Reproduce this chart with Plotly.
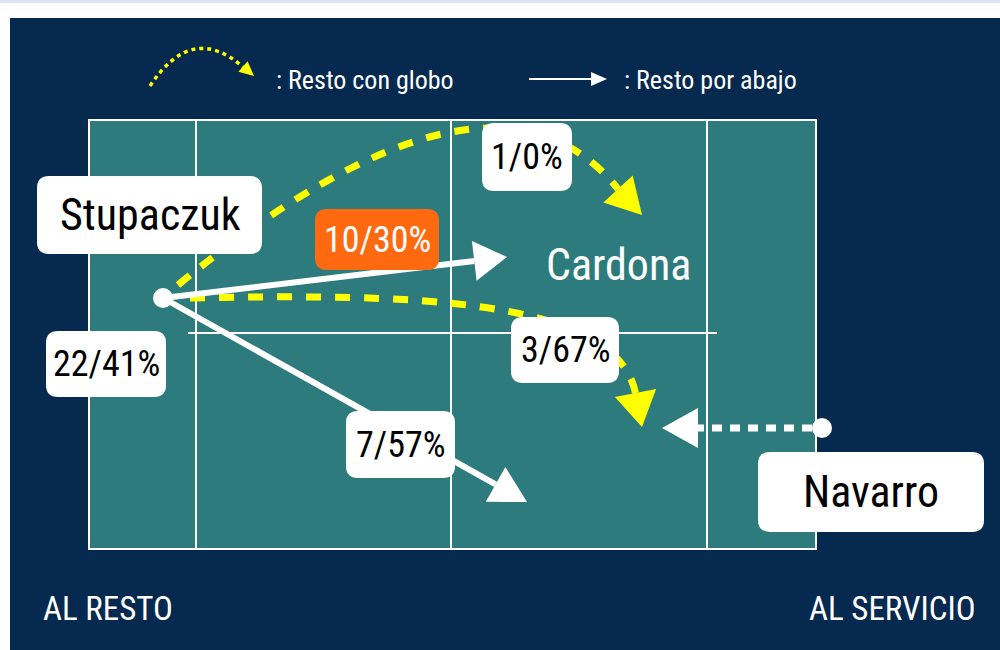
import math
import plotly.graph_objects as go

# ---------------- data ----------------
players = ["Stupaczuk", "Cardona", "Navarro"]
total_count = [22]
total_pct = [41]
lob_counts = [1, 3]          # returns with lob (globo)
lob_pcts = [0, 67]
low_counts = [10, 7]         # low returns (por abajo)
low_pcts = [30, 57]
side_labels = ["AL RESTO", "AL SERVICIO"]
legend_labels = [": Resto con globo", ": Resto por abajo"]

# ---------------- style / geometry (pixel space) ----------------
W, H = 1000, 650
NAVY = "#05294F"
TEAL = "#2E7B7D"
YELLOW = "#FFFF00"
ORANGE = "#FF6A10"
WHITE = "#FFFFFF"
FONT = "Roboto Condensed, Liberation Sans Narrow, sans-serif"

shapes = []
annots = []


def rrect(x0, y0, x1, y1, r=12, fill=WHITE):
    p = (f"M{x0+r},{y0} L{x1-r},{y0} Q{x1},{y0} {x1},{y0+r} "
         f"L{x1},{y1-r} Q{x1},{y1} {x1-r},{y1} L{x0+r},{y1} "
         f"Q{x0},{y1} {x0},{y1-r} L{x0},{y0+r} Q{x0},{y0} {x0+r},{y0} Z")
    shapes.append(dict(type="path", path=p, fillcolor=fill,
                       line=dict(width=0), layer="above"))


def tri(tip, base, hw, color):
    dx, dy = tip[0] - base[0], tip[1] - base[1]
    L = math.hypot(dx, dy)
    nx, ny = -dy / L, dx / L
    a = (base[0] + nx * hw, base[1] + ny * hw)
    b = (base[0] - nx * hw, base[1] - ny * hw)
    p = f"M{tip[0]},{tip[1]} L{a[0]:.1f},{a[1]:.1f} L{b[0]:.1f},{b[1]:.1f} Z"
    shapes.append(dict(type="path", path=p, fillcolor=color,
                       line=dict(width=0), layer="above"))


def base_of(start, tip, length):
    dx, dy = tip[0] - start[0], tip[1] - start[1]
    L = math.hypot(dx, dy)
    return (tip[0] - dx / L * length, tip[1] - dy / L * length)


def line(x0, y0, x1, y1, color=WHITE, width=2, dash="solid"):
    shapes.append(dict(type="line", x0=x0, y0=y0, x1=x1, y1=y1,
                       line=dict(color=color, width=width, dash=dash),
                       layer="above"))


def text(x, y, s, size, color="black", xanchor="center"):
    annots.append(dict(x=x, y=y, text=s, showarrow=False, xanchor=xanchor,
                       yanchor="middle",
                       font=dict(family=FONT, size=size, color=color)))


# background
shapes.append(dict(type="rect", x0=0, y0=0, x1=W, y1=3, fillcolor="#DDE2F2",
                   line=dict(width=0), layer="below"))
shapes.append(dict(type="rect", x0=10, y0=18, x1=W, y1=H, fillcolor=NAVY,
                   line=dict(width=0), layer="below"))

# court
shapes.append(dict(type="rect", x0=89, y0=120, x1=816, y1=549, fillcolor=TEAL,
                   line=dict(color=WHITE, width=2), layer="above"))
for xv in (196, 451, 707):
    line(xv, 120, xv, 549)
line(188, 333, 717, 333)

stu = (163, 298)
nav = (822, 428)

LOB_DASH = "15px,14px"
# lob returns (yellow dashed curves)
lob1_end, lob1_tip = (618, 189), (642, 215)
shapes.append(dict(type="path",
                   path=f"M178,285 Q490,30 {lob1_end[0]},{lob1_end[1]}",
                   line=dict(color=YELLOW, width=7, dash=LOB_DASH),
                   layer="above"))
tri(lob1_tip, lob1_end, 20, YELLOW)

lob2_end, lob2_tip = (635.5, 393), (642, 427)
shapes.append(dict(type="path",
                   path=f"M190,298 C400,294 615,295 {lob2_end[0]},{lob2_end[1]}",
                   line=dict(color=YELLOW, width=7, dash=LOB_DASH),
                   layer="above"))
tri(lob2_tip, lob2_end, 21, YELLOW)

# low returns (white solid arrows)
low1_tip = (507, 257)
b1 = base_of(stu, low1_tip, 33)
line(stu[0], stu[1], b1[0], b1[1], width=6)
tri(low1_tip, b1, 20, WHITE)

low2_tip = (527, 502)
b2 = base_of(stu, low2_tip, 36)
line(stu[0], stu[1], b2[0], b2[1], width=6)
tri(low2_tip, b2, 20, WHITE)

# serve (white dotted arrow from Navarro)
serve_tip = (662, 428)
b3 = (698, 428)
line(nav[0] - 10, nav[1], b3[0], b3[1], width=7, dash="10px,8px")
tri(serve_tip, b3, 20, WHITE)

# player dots
for (px, py) in (stu, nav):
    shapes.append(dict(type="circle", x0=px - 10, y0=py - 10, x1=px + 10,
                       y1=py + 10, fillcolor=WHITE, line=dict(width=0),
                       layer="above"))

# legend
shapes.append(dict(type="path", path="M150,86 Q192,22 243,67",
                   line=dict(color=YELLOW, width=3.5, dash="4px,4px"),
                   layer="above"))
tri((254, 76), (243, 66.5), 7, YELLOW)
line(529, 79, 591, 79, width=2)
tri((607, 79), (591, 79), 7, WHITE)
text(274, 80, legend_labels[0], 26, WHITE, xanchor="left")
text(622, 80, legend_labels[1], 26, WHITE, xanchor="left")

# label boxes
rrect(37, 176, 262, 254)
text(150, 215, players[0], 44)
rrect(758, 452, 984, 532)
text(871, 492, players[2], 44)
text(618, 265, players[1], 44, WHITE)

LS = 36
rrect(482, 123, 572, 191)
text(527, 157, f"{lob_counts[0]}/{lob_pcts[0]}%", LS)
rrect(511, 317, 619, 383)
text(565, 350, f"{lob_counts[1]}/{lob_pcts[1]}%", LS)
rrect(315, 209, 439, 270, fill=ORANGE)
text(377, 240, f"{low_counts[0]}/{low_pcts[0]}%", LS, WHITE)
rrect(346, 411, 455, 478)
text(400, 445, f"{low_counts[1]}/{low_pcts[1]}%", LS)
rrect(46, 331, 166, 397)
text(106, 364, f"{total_count[0]}/{total_pct[0]}%", LS)

text(108, 608, side_labels[0], 33, WHITE)
text(892, 608, side_labels[1], 33, WHITE)

fig = go.Figure()
fig.add_trace(go.Scatter(x=[0, W], y=[0, H], mode="markers",
                         marker=dict(opacity=0), hoverinfo="skip",
                         showlegend=False))
fig.update_layout(
    width=W, height=H, margin=dict(l=0, r=0, t=0, b=0),
    paper_bgcolor=WHITE, plot_bgcolor=WHITE,
    xaxis=dict(range=[0, W], visible=False, fixedrange=True),
    yaxis=dict(range=[H, 0], visible=False, fixedrange=True),
    shapes=shapes, annotations=annots, showlegend=False,
)
fig.write_html("out.html", config={"displayModeBar": False},
               post_script="document.body.style.margin='0';")
